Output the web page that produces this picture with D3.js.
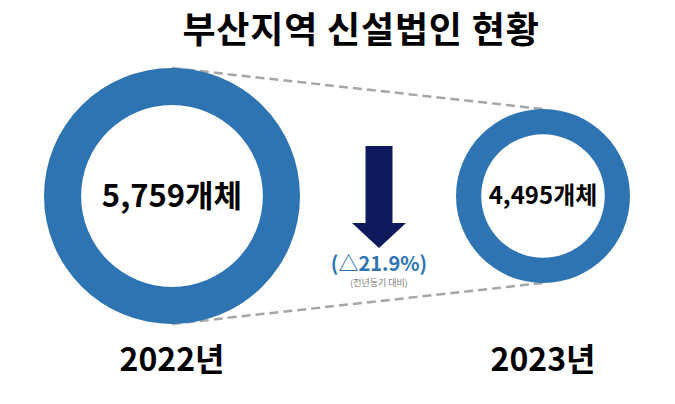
<!DOCTYPE html>
<html>
<head>
<meta charset="utf-8">
<script src="https://cdn.jsdelivr.net/npm/d3@7"></script>
<style>
  body { margin: 0; background: #fff; }
  text { font-family: "Noto Sans CJK KR", "Noto Sans", sans-serif; }
</style>
</head>
<body>
<div id="chart"></div>
<script>
var years = ["2022년", "2023년"];
var counts = [5759, 4495];
var unit = "개체";
var changeLabel = "(△21.9%)";
var changeNote = "(전년동기 대비)";
var title = "부산지역 신설법인 현황";

var width = 675, height = 404;
var cy = 196;

var svg = d3.select("#chart").append("svg")
  .attr("width", width)
  .attr("height", height);

var x = d3.scalePoint().domain(years).range([172, 543]);
var r = d3.scaleLinear().domain([4495, 5759]).range([87, 128]);
var ringWidth = function (v) { return r(v) * 0.29; };
var fontSize = d3.scaleLinear().domain([4495, 5759]).range([24, 31]);

var data = years.map(function (y, i) { return { year: y, value: counts[i] }; });

// title
svg.append("text")
  .attr("x", 361).attr("y", 43)
  .attr("text-anchor", "middle")
  .style("font-size", "36px").style("font-weight", "bold")
  .style("letter-spacing", "0.8px")
  .style("fill", "#000")
  .text(title);

// dashed connector lines (top and bottom)
var a = data[0], b = data[1];
[-1, 1].forEach(function (s) {
  svg.append("line")
    .attr("x1", x(a.year)).attr("y1", cy + s * r(a.value))
    .attr("x2", x(b.year)).attr("y2", cy + s * r(b.value))
    .style("stroke", "#a6a6a6")
    .style("stroke-width", 2.5)
    .style("stroke-dasharray", "9,5");
});

var arc = d3.arc();

var g = svg.selectAll(".ring")
  .data(data).enter()
  .append("g").attr("class", "ring")
  .attr("transform", function (d) { return "translate(" + x(d.year) + "," + cy + ")"; });

g.append("path")
  .attr("d", function (d) {
    return arc({ innerRadius: r(d.value) - ringWidth(d.value), outerRadius: r(d.value), startAngle: 0, endAngle: 2 * Math.PI });
  })
  .style("fill", "#2e74b3");

g.append("text")
  .attr("dy", ".35em")
  .attr("text-anchor", "middle")
  .style("font-size", function (d) { return fontSize(d.value) + "px"; })
  .style("font-weight", "bold")
  .style("fill", "#000")
  .text(function (d) { return d3.format(",")(d.value) + unit; });

// year labels
svg.selectAll(".year")
  .data(data).enter()
  .append("text").attr("class", "year")
  .attr("x", function (d) { return x(d.year); })
  .attr("y", 371)
  .attr("text-anchor", "middle")
  .style("font-size", "32px").style("font-weight", "bold")
  .style("fill", "#000")
  .text(function (d) { return d.year; });

// down arrow
var ax = 379;
var arrow = d3.path();
arrow.moveTo(ax - 13.5, 146);
arrow.lineTo(ax + 13.5, 146);
arrow.lineTo(ax + 13.5, 223);
arrow.lineTo(ax + 27, 223);
arrow.lineTo(ax, 248);
arrow.lineTo(ax - 27, 223);
arrow.lineTo(ax - 13.5, 223);
arrow.closePath();
svg.append("path").attr("d", arrow.toString()).style("fill", "#0e1a5c");

svg.append("text")
  .attr("x", ax).attr("y", 271)
  .attr("text-anchor", "middle")
  .style("font-size", "20px").style("font-weight", "bold")
  .style("fill", "#2e74b3")
  .text(changeLabel);

svg.append("text")
  .attr("x", ax).attr("y", 286)
  .attr("text-anchor", "middle")
  .style("font-size", "9px")
  .style("fill", "#808080")
  .text(changeNote);
</script>
</body>
</html>
